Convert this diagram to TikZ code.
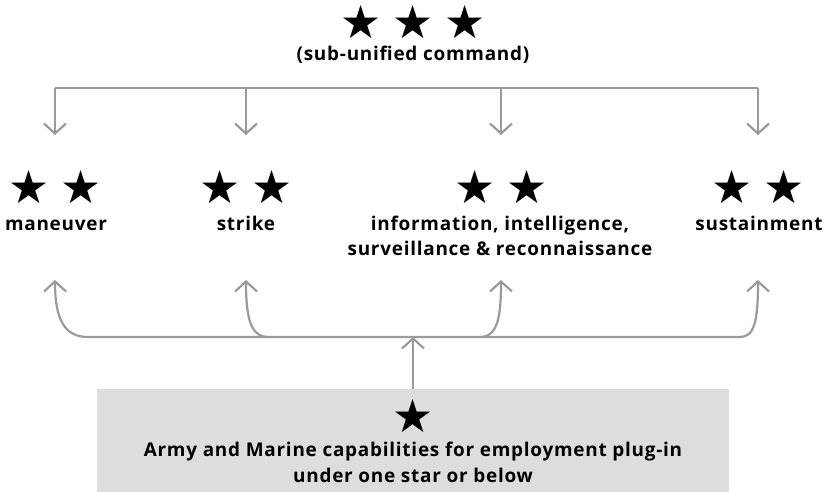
\documentclass[tikz,border=0pt]{standalone}
\usepackage{fontspec}
\setmainfont{Open Sans}[LetterSpace=4]
\newfontfamily\symfont{DejaVu Sans}
\usetikzlibrary{arrows.meta,positioning,calc}
\definecolor{linegray}{RGB}{154,154,156}
\definecolor{boxgray}{RGB}{220,221,223}
\newcommand{\sta}{\symbol{"2605}}
\newcommand{\stgap}{\hspace{11bp}}
\begin{document}
\begin{tikzpicture}[x=1bp,y=-1bp,
    lbl/.style={font=\bfseries\fontsize{19}{25.5}\selectfont,align=center,inner sep=0pt,anchor=base},
    st/.style={font=\symfont\fontsize{46}{46}\selectfont,inner sep=0pt,text height=32bp,text depth=0pt},
    conn/.style={draw=linegray,line width=2.2bp},
    tip/.style={-{Straight Barb[length=10bp,width=22bp]}}]
  \useasboundingbox (0,0) rectangle (824,492);
  % top command
  \node[st] (cmd) at (413,23) {\sta\stgap\sta\stgap\sta};
  \node[lbl] (cmdl) at (413,61) {(sub-unified command)};
  % two star commands
  \node[st] (man) at (55,188) {\sta\stgap\sta};
  \node[st] (str) at (246,188) {\sta\stgap\sta};
  \node[st] (isr) at (501,188) {\sta\stgap\sta};
  \node[st] (sus) at (758,188) {\sta\stgap\sta};
  \node[lbl] (manl) at (56,231) {maneuver};
  \node[lbl] (strl) at (246,231) {strike};
  \node[lbl] (isrl) at (500,255.5) {information, intelligence,\\surveillance \& reconnaissance};
  \node[lbl] (susl) at (759,231) {sustainment};
  % plug-in box
  \node[fill=boxgray,minimum width=632bp,minimum height=104bp,inner sep=0pt] (capbox) at (413,441) {};
  \node[st] (capst) at (413,416) {\sta};
  \node[lbl] (capl) at (413,482) {Army and Marine capabilities for employment plug-in\\under one star or below};
  % connectors
  \coordinate (bar) at (0,88);
  \coordinate (low) at (0,337);
  \coordinate (up) at (0,280);
  \draw[conn] (man |- bar) -- (sus |- bar);
  \foreach \n in {man,str,isr,sus}
    \draw[conn,tip] (\n |- bar) -- ++(0,47);
  \draw[conn,{Straight Barb[length=10bp,width=22bp]}-{Straight Barb[length=10bp,width=22bp]}]
    (man |- up) .. controls +(0,42) and +(-22,0) .. ($(man |- low)+(33,0)$)
    -- ($(sus |- low)+(-18,0)$) .. controls +(14,0) and +(0,42) .. (sus |- up);
  \draw[conn,tip] ($(str |- low)+(22,0)$) .. controls +(-18,0) and +(0,36) .. (str |- up);
  \draw[conn,tip] ($(isr |- low)+(-21,0)$) .. controls +(18,0) and +(0,36) .. (isr |- up);
  \draw[conn,tip] (capbox.north) -- (capbox.north |- low);
\end{tikzpicture}
\end{document}
